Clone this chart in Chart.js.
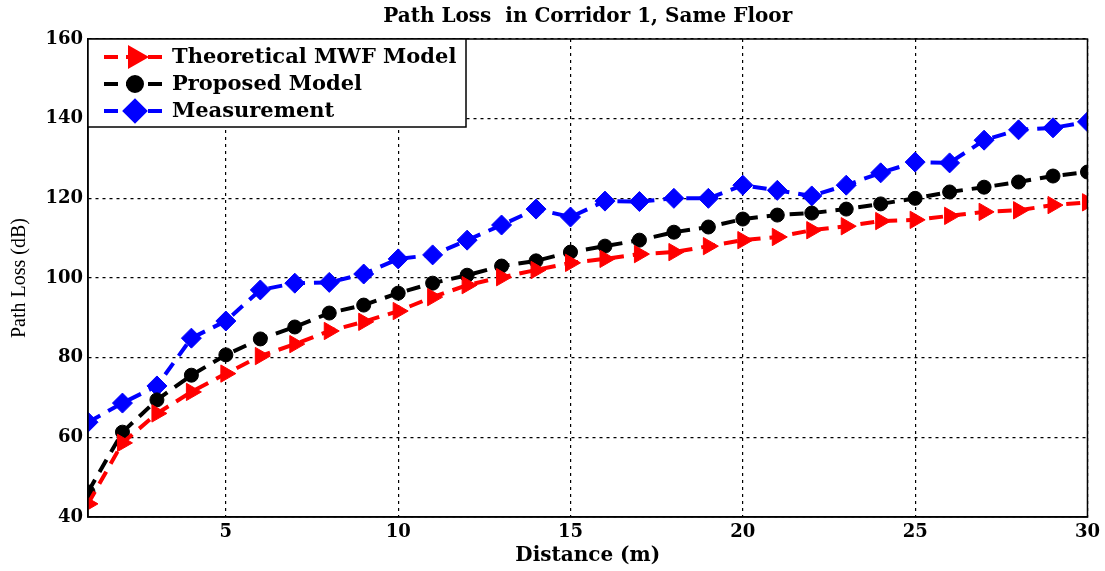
<html>
<head>
<title>Path Loss in Corridor 1</title>
<script src="https://cdn.jsdelivr.net/npm/chart.js@4.4.1/dist/chart.umd.min.js"></script>
<style>
  body { margin: 0; background: #fff; }
  #wrap { width: 1105px; height: 571px; }
</style>
</head>
<body>
<div id="wrap"><canvas id="chart"></canvas></div>
<script>
// values
var distance = [1, 2, 3, 4, 5, 6, 7, 8, 9, 10, 11, 12, 13, 14, 15, 16, 17, 18, 19, 20, 21, 22, 23, 24, 25, 26, 27, 28, 29, 30];
var theoretical = [43.3, 58.6, 66, 71.4, 76, 80.4, 83.4, 86.7, 89, 91.7, 95.2, 98.2, 100.2, 102, 103.8, 104.8, 106, 106.5, 108, 109.5, 110.3, 112, 113, 114.3, 114.6, 115.6, 116.6, 117, 118.3, 119];
var proposed = [46.3, 61.3, 69.4, 75.6, 80.7, 84.7, 87.7, 91.2, 93.2, 96.2, 98.7, 100.7, 103, 104.3, 106.5, 108, 109.5, 111.5, 112.8, 114.8, 115.8, 116.3, 117.3, 118.6, 120, 121.6, 122.8, 124.1, 125.6, 126.6];
var measurement = [63.8, 68.6, 72.9, 84.9, 89.2, 97, 98.7, 98.9, 101, 104.8, 105.8, 109.5, 113.3, 117.3, 115.3, 119.3, 119.2, 120, 120, 123.3, 122, 120.6, 123.3, 126.4, 129.1, 128.9, 134.6, 137.2, 137.7, 139.2];
var xTicks = [5, 10, 15, 20, 25, 30];
var yTicks = [40, 60, 80, 100, 120, 140, 160];

function pts(vals) {
  return distance.map(function(d, i) { return {x: d, y: vals[i]}; });
}

var tickFont = {family: "DejaVu Serif", weight: "bold", size: 18};

// box, title and in-plot legend like the matlab figure
var decor = {
  id: 'decor',
  afterDatasetsDraw: function(chart) {
    var ctx = chart.ctx, a = chart.chartArea;
    ctx.save();
    ctx.setLineDash([]);
    ctx.strokeStyle = '#000';
    ctx.lineWidth = 1.5;
    ctx.strokeRect(a.left, a.top, a.right - a.left, a.bottom - a.top);

    ctx.fillStyle = '#000';
    ctx.font = "bold 20px 'DejaVu Serif'";
    ctx.textAlign = 'center';
    ctx.textBaseline = 'middle';
    ctx.fillText('Path Loss  in Corridor 1, Same Floor', (a.left + a.right) / 2, 17);

    // legend
    var bx = a.left, by = a.top, bw = 378, bh = 88;
    ctx.fillStyle = '#fff';
    ctx.fillRect(bx, by, bw, bh);
    ctx.strokeRect(bx, by, bw, bh);
    chart.data.datasets.forEach(function(ds, i) {
      var y = by + 18 + i * 27;
      ctx.save();
      ctx.strokeStyle = ds.borderColor;
      ctx.lineWidth = 4;
      ctx.setLineDash([14, 8]);
      ctx.beginPath();
      ctx.moveTo(bx + 16, y);
      ctx.lineTo(bx + 78, y);
      ctx.stroke();
      ctx.setLineDash([]);
      ctx.fillStyle = ds.backgroundColor;
      Chart.helpers.drawPoint(ctx, {
        pointStyle: ds.pointStyle, rotation: ds.rotation || 0,
        radius: ds.pointRadius, borderWidth: 1
      }, bx + 47, y);
      ctx.restore();
      ctx.fillStyle = '#000';
      ctx.font = "bold 21px 'DejaVu Serif'";
      ctx.textAlign = 'left';
      ctx.fillText(ds.label, bx + 84, y + 1);
    });
    ctx.restore();
  }
};

new Chart(document.getElementById('chart'), {
  type: 'line',
  data: {
    datasets: [
      {
        label: 'Theoretical MWF Model',
        data: pts(theoretical),
        borderColor: '#ff0000', backgroundColor: '#ff0000',
        borderWidth: 4, borderDash: [14, 9],
        pointStyle: 'triangle', rotation: 90, pointRadius: 10, pointBorderWidth: 1
      },
      {
        label: 'Proposed Model',
        data: pts(proposed),
        borderColor: '#000000', backgroundColor: '#000000',
        borderWidth: 4, borderDash: [14, 9],
        pointStyle: 'circle', pointRadius: 7, pointBorderWidth: 1
      },
      {
        label: 'Measurement',
        data: pts(measurement),
        borderColor: '#0000ff', backgroundColor: '#0000ff',
        borderWidth: 4, borderDash: [14, 9],
        pointStyle: 'rectRot', pointRadius: 10, pointBorderWidth: 1
      }
    ]
  },
  options: {
    responsive: true,
    maintainAspectRatio: false,
    animation: false,
    layout: { padding: { top: 39, right: 17, left: 0, bottom: 0 } },
    plugins: {
      legend: { display: false },
      title: { display: false },
      tooltip: { enabled: false }
    },
    scales: {
      x: {
        type: 'linear', min: 1, max: 30,
        afterBuildTicks: function(s) { s.ticks = xTicks.map(function(v) { return {value: v}; }); },
        afterFit: function(s) { s.height = 54; },
        grid: { color: '#000', lineWidth: 1.2, drawTicks: false },
        border: { display: true, color: '#000', width: 1.5, dash: [3, 4] },
        ticks: { color: '#000', font: tickFont, padding: 5, maxRotation: 0 },
        title: {
          display: true, text: 'Distance (m)', color: '#000',
          font: {family: "DejaVu Serif", weight: "bold", size: 20},
          padding: { top: 0, bottom: 3 }
        }
      },
      y: {
        min: 40, max: 160,
        afterBuildTicks: function(s) { s.ticks = yTicks.map(function(v) { return {value: v}; }); },
        afterFit: function(s) { s.width = 88; },
        grid: { color: '#000', lineWidth: 1.2, drawTicks: false },
        border: { display: true, color: '#000', width: 1.5, dash: [3, 4] },
        ticks: { color: '#000', font: tickFont, padding: 5 },
        title: {
          display: true, text: 'Path Loss (dB)', color: '#000',
          font: {family: "Liberation Serif", size: 20},
          padding: { top: 8, bottom: 0 }
        }
      }
    }
  },
  plugins: [decor]
});
</script>
</body>
</html>
